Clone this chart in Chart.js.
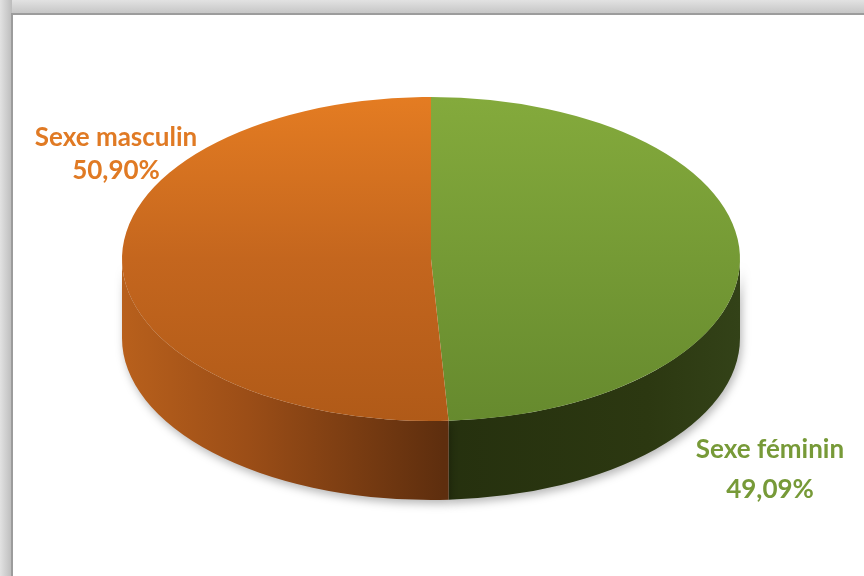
<!DOCTYPE html>
<html>
<head>
<meta charset="utf-8">
<script src="https://cdn.jsdelivr.net/npm/chart.js@4.4.0/dist/chart.umd.min.js"></script>
<style>
  html, body { margin: 0; padding: 0; background: #fff; }
  #wrap { width: 864px; height: 576px; }
</style>
</head>
<body>
<div id="wrap"><canvas id="chart" width="864" height="576"></canvas></div>
<script>
const categories = ['Sexe féminin', 'Sexe masculin'];
const shares = [49.09, 50.90];
const labelColors = ['#779a38', '#e07a24'];

// ellipse of the top face on screen, and thickness of the disc
const cx = 431, cy = 259, rx = 309, ry = 162, depth = 79;

const topGrads = [];
function topFill(c) {
    const i = c.dataIndex;
    if (!topGrads[i]) {
        const g = c.chart.ctx.createLinearGradient(0, 0, 0, 576);
        if (i === 0) {
            g.addColorStop(0, '#84aa3c');
            g.addColorStop(1, '#668a2e');
        } else {
            g.addColorStop(0, '#e47c22');
            g.addColorStop(0.5, '#c4661e');
            g.addColorStop(1, '#b05a18');
        }
        topGrads[i] = g;
    }
    return topGrads[i];
}

const tilt = {
    id: 'tilt',
    beforeDraw(chart) {
        const ctx = chart.ctx;
        ctx.save();
        let g = ctx.createLinearGradient(0, 0, 0, 14);
        g.addColorStop(0, '#e2e2e2');
        g.addColorStop(1, '#c4c4c4');
        ctx.fillStyle = g;
        ctx.fillRect(0, 0, 864, 13);
        g = ctx.createLinearGradient(0, 0, 12, 0);
        g.addColorStop(0, '#e2e2e2');
        g.addColorStop(1, '#bcbcbc');
        ctx.fillStyle = g;
        ctx.fillRect(0, 0, 12, 576);
        ctx.fillStyle = '#9c9c9c';
        ctx.fillRect(12, 13, 852, 2);
        ctx.fillRect(11, 13, 2, 563);
        ctx.restore();
    },
    beforeDatasetsDraw(chart) {
        const ctx = chart.ctx;
        const arcs = chart.getDatasetMeta(0).data;
        const R = arcs[0].outerRadius;
        const sx = rx / R, sy = ry / R;
        ctx.save();
        ctx.translate(cx, cy);
        ctx.scale(sx, sy);
        ctx.translate(-arcs[0].x, -arcs[0].y);
        const d = depth / sy;
        arcs.forEach((a, i) => {
            let s = Math.max(a.startAngle, 0);
            let e = Math.min(a.endAngle, Math.PI);
            if (e <= s) return;
            const x0 = a.x - a.outerRadius, x1 = a.x + a.outerRadius;
            const g = ctx.createLinearGradient(x0, 0, x1, 0);
            if (i === 0) {
                g.addColorStop(0, '#1e270b');
                g.addColorStop(0.5, '#25300e');
                g.addColorStop(0.85, '#2c3811');
                g.addColorStop(1, '#334218');
            } else {
                g.addColorStop(0, '#b8601c');
                g.addColorStop(0.2, '#9c4e17');
                g.addColorStop(0.52, '#5e2e0e');
                g.addColorStop(1, '#4a220a');
            }
            ctx.save();
            ctx.shadowColor = 'rgba(0,0,0,0.28)';
            ctx.shadowBlur = 9;
            ctx.shadowOffsetY = 4;
            ctx.shadowOffsetX = 2;
            ctx.beginPath();
            ctx.arc(a.x, a.y, a.outerRadius, s, e);
            ctx.arc(a.x, a.y + d, a.outerRadius, e, s, true);
            ctx.closePath();
            ctx.fillStyle = g;
            ctx.fill();
            ctx.restore();
        });
    },
    afterDatasetsDraw(chart) {
        chart.ctx.restore();
    },
    afterDraw(chart) {
        const ctx = chart.ctx;
        ctx.save();
        ctx.font = 'bold 26px Lato';
        ctx.textAlign = 'center';
        ctx.textBaseline = 'alphabetic';
        const spots = [[770, 458, 498], [116, 146, 179]];
        categories.forEach((name, i) => {
            ctx.fillStyle = labelColors[i];
            ctx.fillText(name, spots[i][0], spots[i][1]);
            ctx.fillText(shares[i].toFixed(2).replace('.', ',') + '%', spots[i][0], spots[i][2]);
        });
        ctx.restore();
    }
};

new Chart(document.getElementById('chart'), {
    type: 'pie',
    data: {
        labels: categories,
        datasets: [{
            data: shares,
            backgroundColor: topFill,
            borderWidth: 0
        }]
    },
    options: {
        responsive: false,
        animation: false,
        layout: { padding: 0 },
        plugins: {
            legend: { display: false },
            tooltip: { enabled: false }
        }
    },
    plugins: [tilt]
});
</script>
</body>
</html>
